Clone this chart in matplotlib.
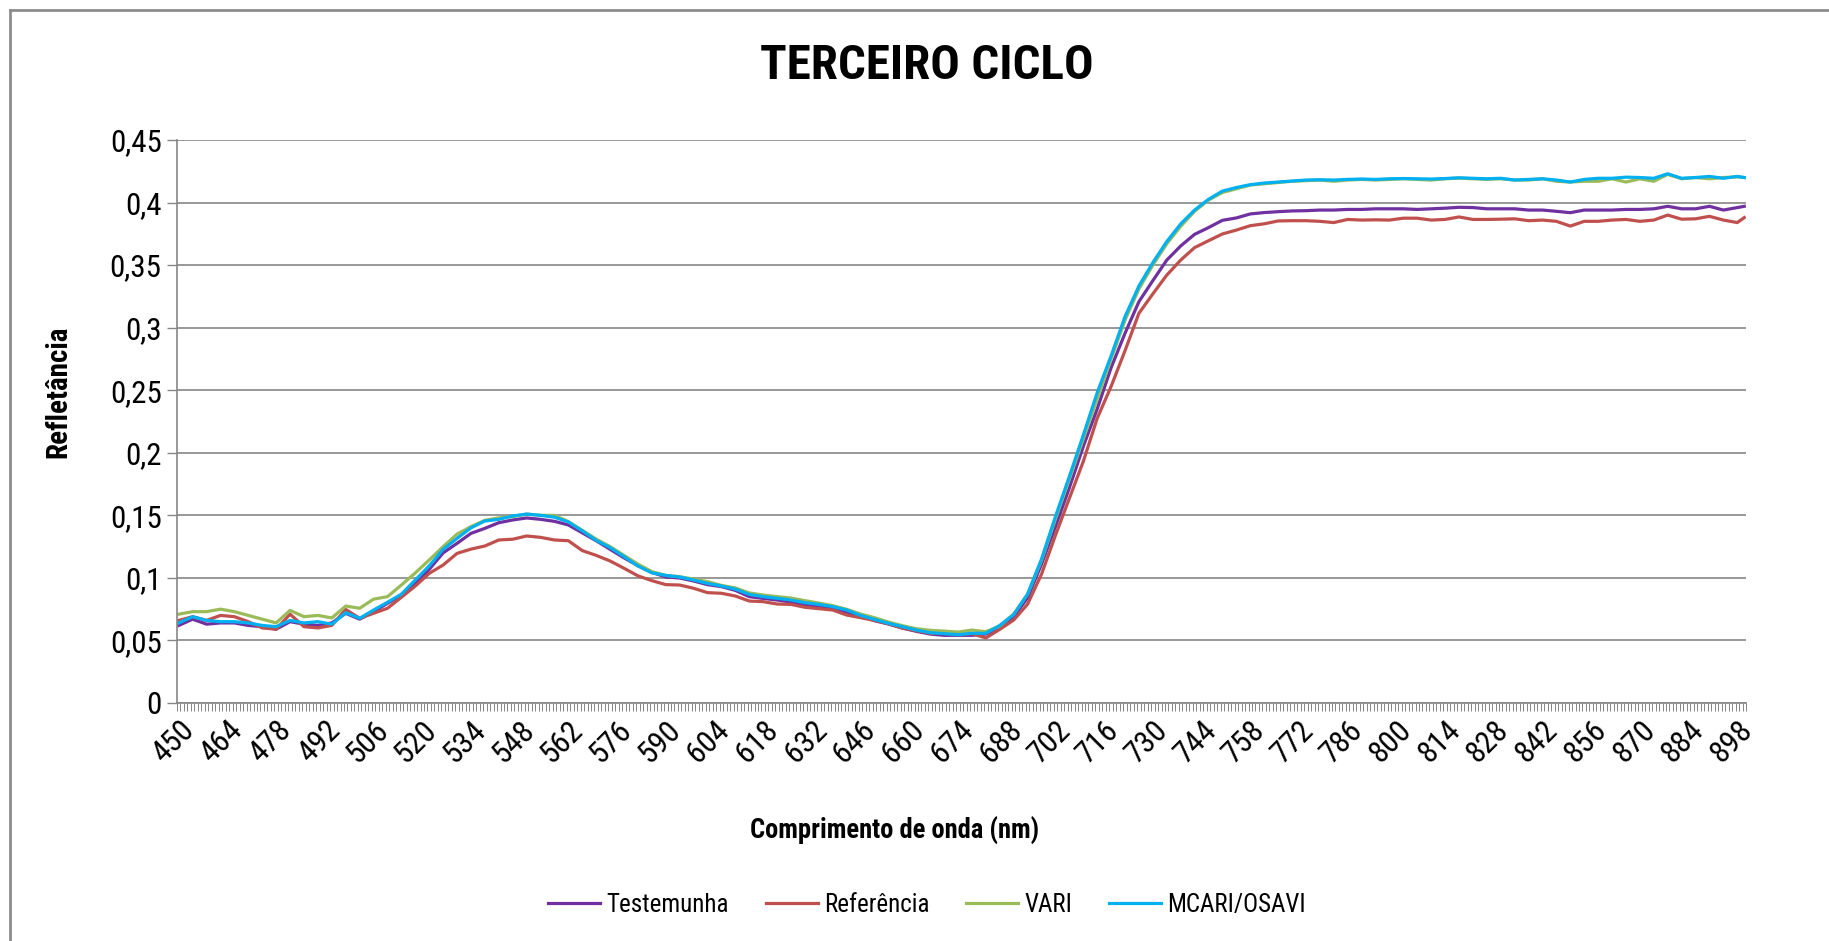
import matplotlib
matplotlib.use("Agg")
import matplotlib.pyplot as plt
from matplotlib import font_manager
from matplotlib.lines import Line2D
from matplotlib.ticker import FixedLocator, FuncFormatter

# comprimento de onda (nm) e refletância por tratamento
comprimento = list(range(450, 899, 4)) + [900]

testemunha = [
    .062, .067, .063, .064, .064, .062, .061, .059, .065, .063,
    .062, .064, .0717, .067, .073, .0797, .0861, .0962, .1068, .120,
    .1276, .1356, .1396, .1441, .1463, .1479, .1468, .1452, .1423, .136,
    .1297, .1228, .116, .1098, .1044, .1007, .0999, .0975, .0946, .093,
    .090, .085, .0836, .0823, .0807, .0786, .0775, .0757, .0727, .0695,
    .0658, .0631, .0599, .0573, .0551, .0541, .0541, .0541, .0551, .0597,
    .069, .084, .111, .141, .172, .205, .235, .268, .2955, .3208,
    .3376, .354, .3653, .3746, .380, .3858, .3877, .3909, .392, .3927,
    .3933, .3935, .394, .394, .3945, .3945, .395, .395, .395, .3945,
    .395, .3955, .3962, .396, .395, .395, .395, .394, .394, .393,
    .3919, .394, .394, .394, .3945, .3945, .395, .397, .395, .395,
    .397, .394, .396, .397]

referencia = [
    .066, .069, .066, .070, .069, .065, .060, .059, .071, .061,
    .060, .062, .0748, .0677, .0717, .0757, .0845, .0935, .1036, .1103,
    .1196, .123, .1255, .1303, .1309, .1335, .1324, .1303, .1297, .1218,
    .118, .1135, .1077, .1016, .0978, .0946, .0943, .0917, .0882, .0877,
    .0855, .0815, .081, .0791, .0788, .0765, .0754, .0743, .0703, .0682,
    .066, .0634, .0599, .0578, .0557, .0557, .0546, .0554, .052, .0589,
    .0663, .079, .103, .134, .1636, .193, .2275, .253, .2816, .3115,
    .327, .342, .354, .364, .3695, .3749, .378, .3815, .383, .3853,
    .3855, .3855, .385, .384, .3865, .386, .3862, .386, .3875, .3875,
    .386, .3865, .3885, .3865, .3865, .3867, .387, .3855, .386, .385,
    .3812, .385, .385, .386, .3865, .385, .386, .390, .3867, .387,
    .389, .386, .384, .388]

vari = [
    .071, .073, .073, .075, .073, .070, .067, .064, .074, .069,
    .070, .068, .0775, .0757, .083, .085, .0943, .104, .1143, .125,
    .135, .141, .146, .148, .149, .151, .150, .150, .145, .138,
    .131, .125, .118, .111, .105, .102, .101, .099, .097, .094,
    .092, .088, .0863, .085, .0839, .0818, .0799, .0778, .0749, .0711,
    .0682, .0647, .0618, .0594, .0581, .0575, .0567, .0583, .057, .0615,
    .0711, .087, .114, .147, .179, .211, .243, .275, .306, .331,
    .350, .367, .381, .393, .402, .408, .411, .414, .415, .416,
    .417, .4175, .418, .417, .418, .4185, .418, .4185, .419, .4185,
    .418, .419, .4195, .419, .4185, .419, .418, .418, .419, .417,
    .4164, .417, .417, .419, .4164, .419, .417, .4225, .419, .420,
    .419, .420, .4205, .420]

mcari_osavi = [
    .064, .069, .066, .065, .065, .064, .062, .061, .066, .064,
    .065, .063, .0722, .0677, .0743, .0805, .087, .0983, .1096, .1228,
    .1316, .140, .1455, .1468, .1495, .151, .150, .1485, .1447, .1376,
    .130, .1242, .117, .1095, .104, .102, .1007, .0983, .0956, .0935,
    .091, .0868, .085, .0837, .0823, .0802, .0788, .077, .0743, .070,
    .0668, .0637, .061, .0583, .0562, .0554, .0546, .0557, .0557, .062,
    .0706, .087, .115, .149, .181, .214, .248, .2774, .3088, .3333,
    .352, .3688, .3829, .394, .4026, .4092, .412, .4143, .4156, .4164,
    .4172, .418, .4182, .418, .4185, .4188, .4185, .419, .4192, .419,
    .4188, .4192, .4198, .4194, .419, .4194, .418, .4185, .419, .418,
    .4164, .4185, .4194, .4194, .4203, .420, .4194, .423, .4194, .420,
    .4209, .4194, .4209, .420]

series = [
    ("Testemunha", testemunha, "#7030A0"),
    ("Referência", referencia, "#C0504D"),
    ("VARI", vari, "#9BBB59"),
    ("MCARI/OSAVI", mcari_osavi, "#00B0F0"),
]

# fonte estreita parecida com Arial Narrow (precisa ter normal e negrito)
pesos = {}
for f in font_manager.fontManager.ttflist:
    pesos.setdefault(f.name, set()).add(f.weight)
candidatas = ["Liberation Sans Narrow", "Arial Narrow", "Roboto Condensed",
              "IBM Plex Sans Condensed", "Encode Sans Condensed", "Fira Sans Condensed"]
estreita = "Liberation Sans"
for c in candidatas:
    ws = pesos.get(c, set())
    if any(w in ws for w in (400, "normal")) and any(w in ws for w in (700, "bold")):
        estreita = c
        break
plt.rcParams["font.family"] = [estreita, "DejaVu Sans"]

W, H = 1829, 941
fig = plt.figure(figsize=(W / 100, H / 100), dpi=100)
ax = fig.add_axes([177 / W, 1 - 703 / H, 1569 / W, 563 / H])
rend = fig.canvas.get_renderer()


def tamanho(texto, largura, peso="normal", base=20):
    # tamanho de fonte que dá a largura (px) medida na referência
    t = fig.text(0, 0, texto, fontsize=base, weight=peso)
    w = t.get_window_extent(rend).width
    t.remove()
    return base * largura / w


for nome, valores, cor in series:
    ax.plot(comprimento, valores, color=cor, lw=2.3, label=nome)

cinza = "#868686"
fs_tick = tamanho("0,45", 52)
ax.set_xlim(449.5, 900.5)
ax.set_ylim(0, 0.45)
ax.set_yticks([i * 0.05 for i in range(10)])
ax.yaxis.set_major_formatter(FuncFormatter(lambda v, p: f"{v:.2f}".rstrip("0").rstrip(".").replace(".", ",")))
ax.grid(axis="y", color=cinza, lw=1.2)
ax.set_axisbelow(True)

ax.set_xticks(list(range(450, 899, 14)))
ax.xaxis.set_minor_locator(FixedLocator([449.5 + k for k in range(452)]))
ax.tick_params(axis="x", which="major", length=0, pad=9, labelsize=fs_tick)
ax.tick_params(axis="x", which="minor", length=6, width=0.7, color=cinza)
ax.tick_params(axis="y", length=7, width=1, color=cinza, labelsize=fs_tick, pad=4)
for lab in ax.get_xticklabels():
    lab.set_rotation(45)
    lab.set_ha("right")
    lab.set_va("top")
    lab.set_rotation_mode("anchor")

for s in ["top", "right"]:
    ax.spines[s].set_visible(False)
for s in ["left", "bottom"]:
    ax.spines[s].set_color(cinza)
    ax.spines[s].set_linewidth(1.2)

fig.text(927 / W, 1 - 66 / H, "TERCEIRO CICLO", weight="bold",
         fontsize=tamanho("TERCEIRO CICLO", 334, "bold"), ha="center", va="center")
fig.text(58 / W, 1 - 392 / H, "Refletância", weight="bold",
         fontsize=tamanho("Refletância", 132, "bold"), rotation=90, ha="center", va="center")
fig.text(895 / W, 1 - 831 / H, "Comprimento de onda (nm)", weight="bold",
         fontsize=tamanho("Comprimento de onda (nm)", 289, "bold"), ha="center", va="center")

fs_leg = tamanho("Testemunha", 122)
px = fs_leg * 100 / 72
fig.legend(loc="center", bbox_to_anchor=(927 / W, 1 - 905 / H), ncol=4,
           frameon=False, fontsize=fs_leg, handlelength=52 / px,
           handletextpad=6 / px, columnspacing=37 / px)

# moldura da área do gráfico
fig.add_artist(Line2D([10 / W, 10 / W], [0, 1 - 10 / H], color="#8C8C8C", lw=2))
fig.add_artist(Line2D([10 / W, 1], [1 - 10 / H, 1 - 10 / H], color="#8C8C8C", lw=2))

fig.savefig("out.png", dpi=100, facecolor="white")
